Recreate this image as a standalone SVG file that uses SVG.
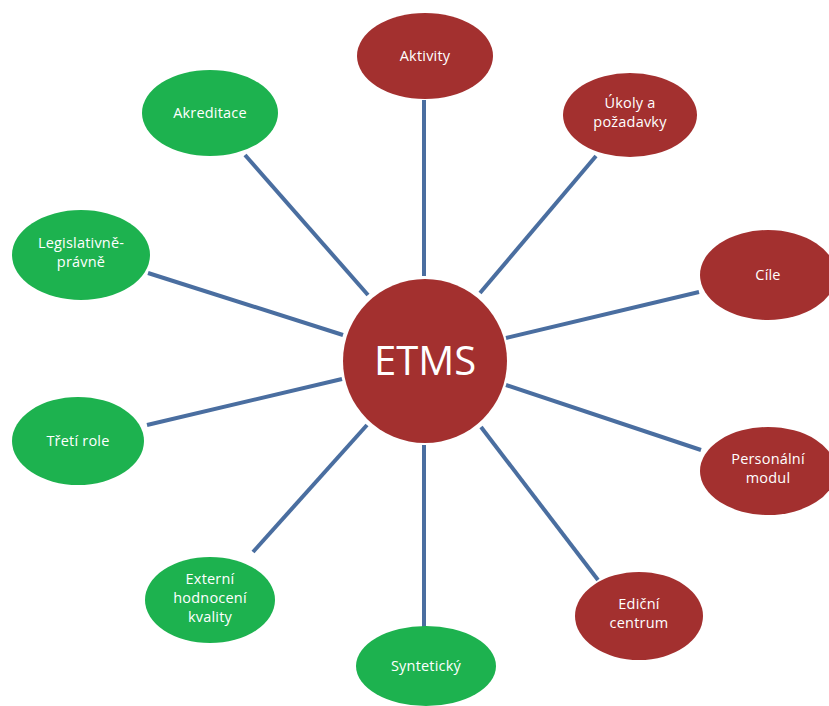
<svg xmlns="http://www.w3.org/2000/svg" width="829" height="706" viewBox="0 0 829 706">
<style>
.red{fill:#A3302F}
.green{fill:#1DB24F}
.lbl{font-family:"Open Sans","Liberation Sans",sans-serif;font-size:14.5px;letter-spacing:0.2px;fill:#fff;text-anchor:middle}
.big{font-family:"Open Sans","Liberation Sans",sans-serif;font-size:40px;fill:#fff;text-anchor:middle}
#connectors line{stroke:#4A6EA0;stroke-width:4;stroke-linecap:butt}
</style>
<rect width="829" height="706" fill="#fff"/>
<g id="connectors">
<line x1="424" y1="100" x2="424" y2="276"/>
<line x1="596" y1="156" x2="480" y2="293"/>
<line x1="699" y1="292" x2="506" y2="338"/>
<line x1="701" y1="450" x2="506" y2="385"/>
<line x1="598" y1="580" x2="481" y2="427"/>
<line x1="424" y1="445" x2="424" y2="642"/>
<line x1="253" y1="552" x2="367" y2="425"/>
<line x1="147" y1="425" x2="342" y2="379"/>
<line x1="148" y1="273" x2="343" y2="335"/>
<line x1="245" y1="155" x2="368" y2="295"/>
</g>
<g id="etms"><circle class="red" cx="425" cy="361" r="82"/><text class="big" x="425" y="375">ETMS</text></g>
<g id="aktivity"><ellipse class="red" cx="425" cy="56" rx="68" ry="43"/><text class="lbl" x="425" y="61">Aktivity</text></g>
<g id="ukoly"><ellipse class="red" cx="630" cy="115" rx="67" ry="42"/><text class="lbl" x="630" y="108">Úkoly a</text><text class="lbl" x="630" y="127">požadavky</text></g>
<g id="cile"><ellipse class="red" cx="768" cy="275" rx="68" ry="45"/><text class="lbl" x="768" y="280">Cíle</text></g>
<g id="personalni"><ellipse class="red" cx="768" cy="471" rx="68" ry="44"/><text class="lbl" x="768" y="464">Personální</text><text class="lbl" x="768" y="483">modul</text></g>
<g id="edicni"><ellipse class="red" cx="639" cy="616" rx="64" ry="44"/><text class="lbl" x="639" y="609">Ediční</text><text class="lbl" x="639" y="628">centrum</text></g>
<g id="synteticky"><ellipse class="green" cx="426" cy="666" rx="70" ry="40"/><text class="lbl" x="426" y="671">Syntetický</text></g>
<g id="externi"><ellipse class="green" cx="210" cy="600" rx="65" ry="43"/><text class="lbl" x="210" y="584">Externí</text><text class="lbl" x="210" y="603">hodnocení</text><text class="lbl" x="210" y="622">kvality</text></g>
<g id="treti"><ellipse class="green" cx="78" cy="441" rx="66" ry="44"/><text class="lbl" x="78" y="446">Třetí role</text></g>
<g id="legislativne"><ellipse class="green" cx="81" cy="255" rx="69" ry="45"/><text class="lbl" x="81" y="248">Legislativně-</text><text class="lbl" x="81" y="267">právně</text></g>
<g id="akreditace"><ellipse class="green" cx="210" cy="113" rx="68" ry="43"/><text class="lbl" x="210" y="118">Akreditace</text></g>
</svg>
